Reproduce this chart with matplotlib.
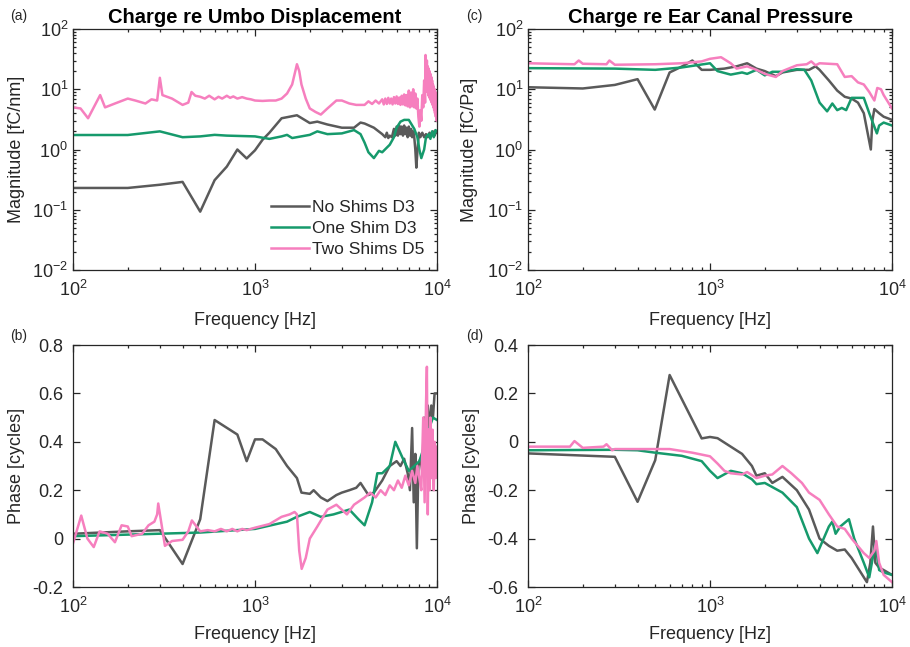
import matplotlib
matplotlib.use("Agg")
import matplotlib.pyplot as plt
from matplotlib.ticker import LogLocator, NullFormatter, FixedLocator

plt.rcParams['font.family'] = ['Liberation Sans', 'DejaVu Sans']
plt.rcParams['mathtext.fontset'] = 'custom'
plt.rcParams['mathtext.rm'] = 'Liberation Sans'
plt.rcParams['mathtext.it'] = 'Liberation Sans'
plt.rcParams['axes.unicode_minus'] = False

# ---------------- data ----------------
labels = ["No Shims D3", "One Shim D3", "Two Shims D5"]
colors = ["#5a5a5a", "#169a6c", "#f67fbe"]

# (a) magnitude re umbo displacement [fC/nm]
a_gray_f = [100, 200, 300, 400, 500, 600, 700, 800, 900, 1000, 1100, 1200, 1400, 1700, 2000, 2200,
            2500, 3000, 3500, 3800, 4000, 4500, 5000, 5200, 5300, 5400, 5500, 5650, 5800, 5900, 6000,
            6100, 6200, 6300, 6400, 6500, 6600, 6700, 6800, 6900, 7000, 7100, 7200, 7300, 7400, 7500,
            7600, 7700, 7800, 7950, 8100, 8300, 8500, 8700, 8900, 9100, 9300, 9500, 9700, 9850, 10000]
a_gray_v = [0.23, 0.23, 0.26, 0.29, 0.093, 0.31, 0.52, 1.0, 0.71, 0.97, 1.45, 1.9, 3.3, 3.7, 2.75, 2.9,
            2.6, 2.3, 2.3, 2.8, 2.7, 2.3, 1.8, 1.6, 1.9, 1.55, 1.7, 1.6, 2.2, 1.7, 2.4,
            1.7, 2.5, 1.8, 2.4, 1.7, 2.5, 1.8, 2.3, 1.6, 2.4, 1.7, 2.2, 1.6, 2.0, 1.6,
            1.0, 0.5, 0.9, 1.9, 1.6, 1.9, 1.6, 1.8, 1.6, 1.9, 1.7, 2.0, 1.7, 1.9, 1.9]

a_green_f = [100, 200, 300, 400, 500, 600, 700, 1000, 1200, 1400, 1500, 1600, 2000, 2200, 2500, 3000,
             3500, 3800, 4000, 4200, 4500, 4800, 5000, 5500, 5800, 6000, 6300, 6600, 7000, 7500, 7800,
             8000, 8200, 8500, 8700, 9000, 9200, 9400, 9600, 9800, 10000]
a_green_v = [1.74, 1.74, 2.0, 1.6, 1.65, 1.75, 1.7, 1.65, 1.5, 1.65, 1.75, 1.55, 1.75, 2.0, 1.8, 1.85,
             2.1, 1.8, 1.3, 0.9, 0.72, 0.95, 0.9, 1.2, 1.6, 2.3, 2.9, 3.1, 3.1, 2.2, 1.6,
             1.0, 0.72, 1.0, 1.6, 1.8, 1.5, 2.0, 1.6, 2.1, 2.0]

a_pink_f = [100, 110, 121, 141, 150, 170, 200, 220, 250, 270, 290, 300, 310, 350, 400, 430, 448, 470,
            500, 530, 560, 600, 630, 660, 700, 730, 760, 800, 850, 900, 950, 1000, 1100, 1200, 1300,
            1400, 1500, 1600, 1700, 1750, 1800, 1900, 2000, 2150, 2300, 2500, 2800, 3000, 3300, 3600,
            4000, 4200, 4400, 4600, 4800, 5000, 5100, 5200, 5300, 5400, 5500, 5600, 5700, 5800, 5900,
            6000, 6100, 6200, 6300, 6400, 6500, 6600, 6700, 6800, 6900, 7000, 7100, 7200, 7300, 7400,
            7500, 7600, 7700, 7800, 7900, 8000, 8100, 8200, 8300, 8400, 8500, 8600, 8650, 8700, 8800,
            8850, 8900, 8950, 9000, 9050, 9100, 9150, 9200, 9250, 9300, 9350, 9400, 9450, 9500, 9550,
            9600, 9650, 9700, 9750, 9800, 9850, 9900, 9950, 10000]
a_pink_v = [5.0, 4.8, 3.3, 8.0, 5.0, 5.8, 7.0, 6.5, 5.8, 6.8, 6.5, 15.5, 8.0, 7.0, 5.5, 6.0, 9.0, 7.8,
            7.5, 7.0, 7.8, 6.8, 7.5, 7.0, 7.8, 7.2, 7.6, 7.0, 7.4, 7.0, 6.8, 6.5, 6.4, 6.5, 6.5,
            7.0, 8.5, 12, 26, 20, 12, 7, 4.8, 4.2, 3.8, 4.8, 6.5, 6.5, 5.8, 5.5,
            5.5, 6.3, 5.7, 6.5, 5.8, 6.8, 5.6, 7.0, 5.7, 7.2, 5.8, 7.0, 5.6, 7.4, 5.8,
            7.6, 5.7, 7.3, 5.5, 7.8, 5.6, 8.2, 5.4, 8.0, 5.2, 9.5, 5.0, 8.8, 5.2, 10.0,
            5.0, 8.5, 4.8, 7.0, 3.5, 2.4, 4.5, 3.0, 8.0, 5.0, 14.0, 6.0, 37.0, 10.0, 30.0,
            9.0, 24.0, 8.0, 22.0, 7.5, 20.0, 7.0, 18.0, 6.5, 16.0, 6.0, 14.0, 5.5, 12.0, 5.0,
            11.0, 4.5, 10.0, 4.0, 9.0, 3.5, 8.0, 3.0, 5.0]

# (b) phase re umbo displacement [cycles]
b_gray_f = [100, 200, 300, 400, 500, 600, 800, 900, 1000, 1100, 1300, 1500, 1700, 1800, 2000, 2100,
            2300, 2500, 2800, 3000, 3300, 3600, 3800, 4200, 4500, 5000, 5500, 6000, 6300, 6600, 6900,
            7100, 7300, 7450, 7600, 7750, 7900, 8100, 8300, 8500, 8700, 8900, 9100, 9300, 9500, 9700,
            10000]
b_gray_v = [0.02, 0.03, 0.035, -0.105, 0.08, 0.49, 0.43, 0.32, 0.41, 0.41, 0.37, 0.30, 0.25, 0.19, 0.185,
            0.2, 0.17, 0.155, 0.18, 0.19, 0.2, 0.21, 0.23, 0.18, 0.19, 0.24, 0.3, 0.32, 0.3, 0.33, 0.27,
            0.2, 0.457, 0.15, 0.35, -0.04, 0.3, 0.33, 0.28, 0.5, 0.4, 0.55, 0.45, 0.55, 0.5, 0.6, 0.6]

b_green_f = [100, 500, 1000, 1500, 1700, 2000, 2300, 2700, 3300, 3700, 4000, 4400, 4700, 5000, 5500,
             5900, 6500, 7000, 7500, 8000, 8500, 9000, 9500, 10000]
b_green_v = [0.01, 0.025, 0.04, 0.07, 0.09, 0.11, 0.09, 0.1, 0.12, 0.08, 0.055, 0.15, 0.27, 0.27, 0.3,
             0.4, 0.33, 0.28, 0.3, 0.32, 0.38, 0.45, 0.5, 0.49]

b_pink_f = [100, 111, 120, 130, 140, 155, 170, 185, 200, 210, 240, 260, 280, 290, 294, 320, 350, 400,
            430, 450, 500, 550, 600, 650, 700, 750, 800, 850, 900, 1000, 1200, 1400, 1550, 1650, 1700,
            1750, 1805, 1900, 2000, 2200, 2500, 2800, 3200, 3500, 4000, 4300, 4600, 4900, 5200, 5500,
            5800, 6100, 6400, 6700, 7000, 7300, 7600, 7800, 8000, 8200, 8400, 8550, 8700, 8800, 8900,
            9000, 9100, 9200, 9300, 9450, 9600, 9700, 9850, 10000]
b_pink_v = [-0.02, 0.095, 0.0, -0.035, 0.03, 0.02, -0.015, 0.055, 0.05, 0.01, 0.02, 0.055, 0.07, 0.1,
            0.145, -0.03, -0.01, -0.005, 0.03, 0.075, 0.03, 0.035, 0.03, 0.04, 0.03, 0.04, 0.03, 0.04,
            0.035, 0.045, 0.06, 0.09, 0.1, 0.11, 0.1, -0.05, -0.125, -0.08, 0.0, 0.05, 0.12, 0.14, 0.1,
            0.14, 0.17, 0.19, 0.17, 0.2, 0.18, 0.22, 0.2, 0.24, 0.21, 0.26, 0.22, 0.28, 0.23, 0.3, 0.25,
            0.2, 0.5, 0.15, 0.55, 0.71, 0.1, 0.45, 0.2, 0.5, 0.25, 0.45, 0.2, 0.4, 0.25, 0.38]

# (c) magnitude re ear canal pressure [fC/Pa]
c_gray_f = [100, 200, 300, 400, 497, 600, 700, 800, 900, 1000, 1200, 1400, 1600, 1800, 2000, 2300,
            2500, 3000, 3500, 3800, 4000, 4500, 5000, 5500, 6000, 6500, 7000, 7650, 7800, 8000, 8500,
            9000, 10000]
c_gray_v = [10.8, 10.3, 11.8, 14.7, 4.6, 19, 23.8, 30, 21, 21, 22, 24, 27, 22, 20, 16.5,
            19, 21, 21, 24, 21, 14, 9.5, 7.5, 7.0, 6.0, 4.0, 1.0, 3.0, 4.7, 4.0,
            3.5, 3.1]

c_green_f = [100, 300, 500, 700, 1000, 1100, 1300, 1500, 1600, 1800, 2000, 2200, 2500, 3000, 3300,
             3600, 4000, 4400, 4700, 5000, 5300, 5600, 6000, 7000, 7500, 8260, 8500, 9000, 10000]
c_green_v = [22.4, 22, 21, 23, 27, 20, 17.5, 19, 18, 21, 17, 19.5, 19.5, 21.5, 21,
             14, 6.0, 4.3, 5.8, 4.5, 4.9, 4.5, 7.2, 7.2, 4.0, 1.85, 2.5, 2.8, 2.5]

c_pink_f = [100, 180, 190, 200, 270, 280, 300, 500, 700, 900, 1000, 1150, 1300, 1400, 1600, 1800,
            2000, 2300, 2500, 3000, 3400, 3600, 3800, 4000, 5000, 5500, 6000, 6500, 7000, 7500, 8000,
            8300, 8700, 9000, 10000]
c_pink_v = [27, 26, 30, 26.5, 26, 30, 25.5, 26, 27, 29, 32, 34, 27, 22, 24, 21,
            18, 16, 20, 25, 26, 29, 25, 27, 26, 16, 16.5, 13, 12, 9, 6.5,
            10.5, 10, 8, 4.8]

# (d) phase re ear canal pressure [cycles]
d_gray_f = [100, 300, 400, 500, 600, 900, 1000, 1100, 1300, 1500, 1700, 1800, 2000, 2200, 2500, 3000,
            3500, 4000, 4500, 5000, 5500, 6000, 7280, 7600, 7860, 8100, 8500, 9000, 10000]
d_gray_v = [-0.048, -0.062, -0.248, -0.076, 0.276, 0.014, 0.02, 0.015, -0.02, -0.05, -0.1, -0.14, -0.13,
            -0.17, -0.145, -0.2, -0.28, -0.4, -0.43, -0.45, -0.445, -0.48, -0.58, -0.5, -0.35, -0.5,
            -0.52, -0.53, -0.55]

d_green_f = [100, 300, 400, 500, 700, 900, 1000, 1100, 1300, 1500, 1700, 1800, 2000, 2500, 3000, 3500,
             3890, 4500, 4700, 4900, 5200, 5800, 6200, 7000, 7500, 8100, 8500, 9000, 10000]
d_green_v = [-0.035, -0.033, -0.035, -0.045, -0.058, -0.08, -0.12, -0.15, -0.12, -0.13, -0.155, -0.175,
             -0.17, -0.21, -0.27, -0.4, -0.46, -0.35, -0.33, -0.38, -0.35, -0.32, -0.4, -0.5, -0.56,
             -0.42, -0.53, -0.54, -0.55]

d_pink_f = [100, 170, 180, 200, 260, 270, 290, 300, 500, 600, 800, 1000, 1100, 1200, 1300, 1500, 1600,
            1800, 2000, 2200, 2500, 2800, 3200, 3500, 4000, 4500, 5000, 5500, 6000, 7000, 7500, 8000,
            8200, 8500, 9000, 10000]
d_pink_v = [-0.02, -0.02, 0.003, -0.025, -0.02, -0.01, -0.035, -0.03, -0.03, -0.03, -0.045, -0.06, -0.09,
            -0.12, -0.13, -0.135, -0.125, -0.15, -0.14, -0.135, -0.1, -0.13, -0.17, -0.21, -0.24, -0.3,
            -0.35, -0.36, -0.4, -0.46, -0.48, -0.45, -0.41, -0.5, -0.55, -0.58]

# ---------------- figure ----------------
W, H = 910, 647
fig = plt.figure(figsize=(W / 100, H / 100), dpi=100)
TXT = '#262626'
FS = 13


def add_ax(l, t, r, b):
    return fig.add_axes([l / W, 1 - b / H, (r - l) / W, (b - t) / H])


axA = add_ax(73, 29, 437, 270)
axC = add_ax(528, 29, 892, 270)
axB = add_ax(73, 345, 437, 587)
axD = add_ax(528, 345, 892, 587)

lw = 1.8


def style(ax, logy, xlab_y):
    ax.set_xscale('log')
    ax.set_xlim(100, 10000)
    if logy:
        ax.set_yscale('log')
        ax.set_ylim(1e-2, 1e2)
        ax.yaxis.set_major_locator(LogLocator(base=10, numticks=10))
        ax.yaxis.set_minor_locator(LogLocator(base=10, subs=range(2, 10), numticks=20))
        ax.yaxis.set_minor_formatter(NullFormatter())
    ax.xaxis.set_major_locator(LogLocator(base=10, numticks=10))
    ax.xaxis.set_minor_locator(LogLocator(base=10, subs=range(2, 10), numticks=20))
    ax.xaxis.set_minor_formatter(NullFormatter())
    ax.tick_params(which='both', direction='in', top=True, right=True, colors=TXT,
                   labelsize=FS, width=0.9)
    ax.tick_params(which='major', length=5)
    ax.tick_params(which='minor', length=2.5)
    ax.tick_params(axis='x', which='major', pad=7)
    ax.tick_params(axis='y', which='major', pad=3.5 if logy else 7)
    for s in ax.spines.values():
        s.set_color(TXT)
        s.set_linewidth(0.9)
    ax.set_xlabel('Frequency [Hz]', fontsize=FS, color=TXT)
    ax.xaxis.set_label_coords(0.5, xlab_y)


style(axA, True, -0.175)
style(axC, True, -0.175)
style(axB, False, -0.162)
style(axD, False, -0.162)

axA.plot(a_gray_f, a_gray_v, color=colors[0], lw=lw, label=labels[0])
axA.plot(a_green_f, a_green_v, color=colors[1], lw=lw, label=labels[1])
axA.plot(a_pink_f, a_pink_v, color=colors[2], lw=lw, label=labels[2])

axC.plot(c_gray_f, c_gray_v, color=colors[0], lw=lw)
axC.plot(c_green_f, c_green_v, color=colors[1], lw=lw)
axC.plot(c_pink_f, c_pink_v, color=colors[2], lw=lw)

axB.plot(b_gray_f, b_gray_v, color=colors[0], lw=lw)
axB.plot(b_green_f, b_green_v, color=colors[1], lw=lw)
axB.plot(b_pink_f, b_pink_v, color=colors[2], lw=lw)

axD.plot(d_gray_f, d_gray_v, color=colors[0], lw=lw)
axD.plot(d_green_f, d_green_v, color=colors[1], lw=lw)
axD.plot(d_pink_f, d_pink_v, color=colors[2], lw=lw)

axB.set_ylim(-0.2, 0.8)
axB.yaxis.set_major_locator(FixedLocator([-0.2, 0, 0.2, 0.4, 0.6, 0.8]))
axB.set_yticklabels(['-0.2', '0', '0.2', '0.4', '0.6', '0.8'])
axD.set_ylim(-0.6, 0.4)
axD.yaxis.set_major_locator(FixedLocator([-0.6, -0.4, -0.2, 0, 0.2, 0.4]))
axD.set_yticklabels(['-0.6', '-0.4', '-0.2', '0', '0.2', '0.4'])

axA.set_ylabel('Magnitude [fC/nm]', fontsize=FS, color=TXT)
axC.set_ylabel('Magnitude [fC/Pa]', fontsize=FS, color=TXT)
axB.set_ylabel('Phase [cycles]', fontsize=FS, color=TXT)
axD.set_ylabel('Phase [cycles]', fontsize=FS, color=TXT)
axA.yaxis.set_label_coords(-0.131, 0.5)
axB.yaxis.set_label_coords(-0.131, 0.5)
axC.yaxis.set_label_coords(-0.137, 0.5)
axD.yaxis.set_label_coords(-0.132, 0.5)

axA.set_title('Charge re Umbo Displacement', fontsize=14.5, fontweight='bold', pad=4)
axC.set_title('Charge re Ear Canal Pressure', fontsize=14.5, fontweight='bold', pad=4)

for txt, x, y in (('(a)', 10, 16), ('(c)', 466, 16), ('(b)', 10, 336), ('(d)', 466, 336)):
    fig.text(x / W, 1 - y / H, txt, fontsize=10, color=TXT, va='center', ha='left')

leg = axA.legend(loc='lower right', frameon=False, fontsize=12.5, handlelength=2.15,
                 handletextpad=0.2, labelspacing=0.33, borderaxespad=0.0,
                 bbox_to_anchor=(0.985, 0.025))
for t in leg.get_texts():
    t.set_color(TXT)

fig.savefig('out.png', dpi=100)
